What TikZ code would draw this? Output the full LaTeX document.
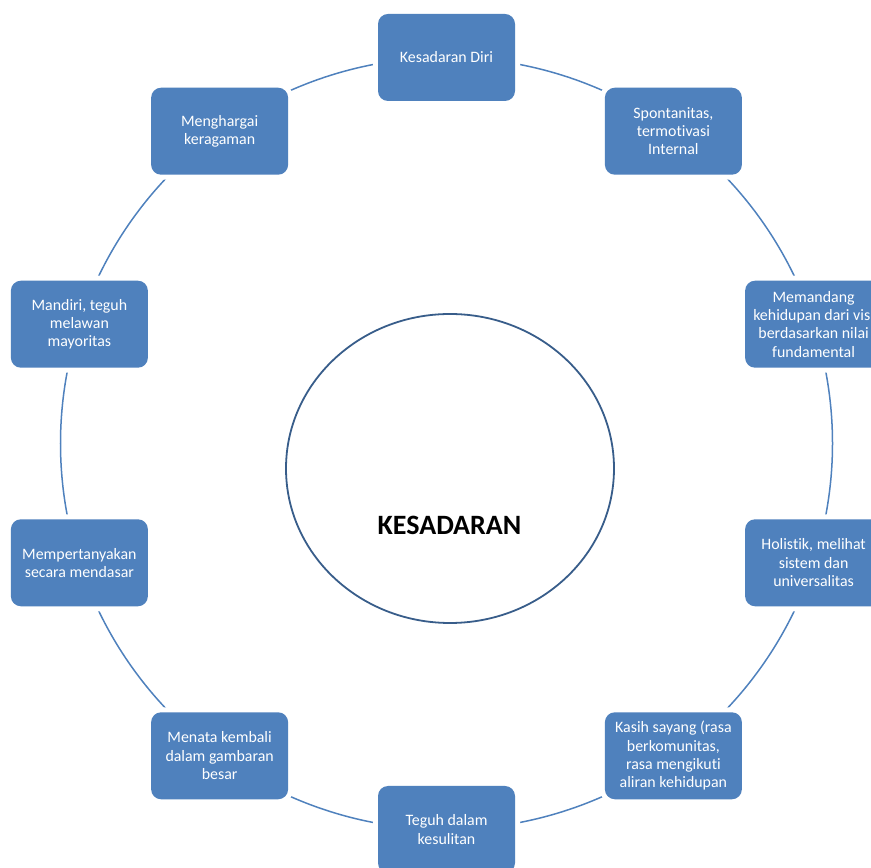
\documentclass[tikz,border=0pt]{standalone}
\usepackage{fontspec}
\setmainfont{Carlito}[Ligatures=NoCommon]
\definecolor{boxblue}{RGB}{79,129,189}
\definecolor{ringline}{RGB}{79,129,189}
\definecolor{rimblue}{RGB}{56,93,138}
\usetikzlibrary{backgrounds,shapes.geometric}

\begin{document}
\begin{tikzpicture}[x=1pt,y=1pt,
    item/.style={rectangle,rounded corners=10pt,fill=boxblue,
      preaction={draw=white,line width=10pt},
      minimum width=137pt,minimum height=87pt,inner sep=2pt,
      text=white,align=center,font=\fontsize{15.9}{18.3}\selectfont},
    ring/.style={ringline,line width=1.5pt}]
        \useasboundingbox (0,0) rectangle (871,868);
        \clip (0,0) rectangle (871,868);
        \coordinate (c) at (446.5,424.5);
        % the ten boxes round the ring
        \node[item] (n1) at ([shift={(90:386)}]c) {Kesadaran Diri};
        \node[item] (n2) at ([shift={(54:386)}]c) {Spontanitas,\\termotivasi\\Internal};
        \node[item] (n3) at ([shift={(18:386)}]c) {Memandang\\kehidupan dari visi\\berdasarkan nilai\\fundamental};
        \node[item] (n4) at ([shift={(-18:386)}]c) {Holistik, melihat\\sistem dan\\universalitas};
        \node[item] (n5) at ([shift={(-54:386)}]c) {Kasih sayang (rasa\\berkomunitas,\\rasa mengikuti\\aliran kehidupan};
        \node[item] (n6) at ([shift={(-90:386)}]c) {Teguh dalam\\kesulitan};
        \node[item] (n7) at ([shift={(-126:386)}]c) {Menata kembali\\dalam gambaran\\besar};
        \node[item] (n8) at ([shift={(-162:386)}]c) {Mempertanyakan\\secara mendasar};
        \node[item] (n9) at ([shift={(162:386)}]c) {Mandiri, teguh\\melawan\\mayoritas};
        \node[item] (n10) at ([shift={(126:386)}]c) {Menghargai\\keragaman};
        % centre
        \node[ellipse,draw=rimblue,line width=1.8pt,minimum width=328pt,minimum height=309pt] (core) at (450,399.5) {};
        \node[font=\fontsize{28}{32}\selectfont\bfseries] (title) at (449.5,343) {KESADARAN};
        \begin{scope}[on background layer]
          \foreach \p/\a in {n1/90,n2/54,n3/18,n4/-18,n5/-54,n6/-90,n7/-126,n8/-162,n9/162,n10/126}
            \draw[ring] (\p.center) arc[start angle=\a,end angle=\a-36,radius=386pt];
        \end{scope}
\end{tikzpicture}
\end{document}
